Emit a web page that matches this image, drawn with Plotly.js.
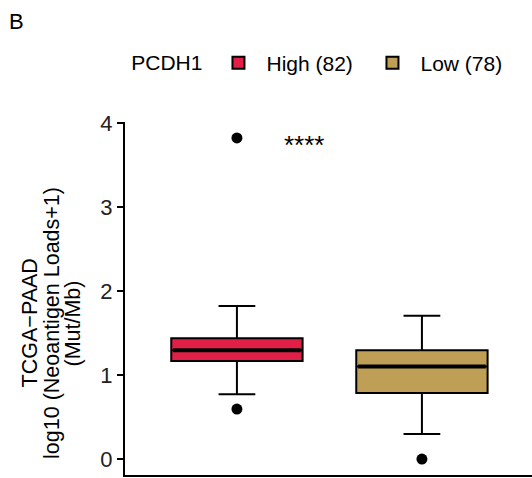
<!DOCTYPE html>
<html>
<head>
<meta charset="utf-8">
<script src="https://cdn.plot.ly/plotly-3.0.1.min.js"></script>
<style>html,body{margin:0;padding:0;background:#fff}#chart{width:532px;height:478px}</style>
</head>
<body>
<div id="chart"></div>
<script>
// ---- data ----
const groups = ["High (82)", "Low (78)"];
const q1 = [1.167, 0.786];
const median = [1.294, 1.10];
const q3 = [1.437, 1.294];
const lowerFence = [0.77, 0.298];
const upperFence = [1.82, 1.706];
const outlierGroup = [0, 0, 1];
const outlierValues = [3.82, 0.595, 0.0];
const colors = ["#E21F47", "#BE9F55"];
const legendTitle = "PCDH1";
const yTitleLines = ["TCGA\u2212PAAD", "log10 (Neoantigen Loads+1)", "(Mut/Mb)"];
const sigLabel = "****";
const panelLabel = "B";

const FONT = "Liberation Sans, Arial, sans-serif";
const BOXW = 0.71;

const traces = [];
groups.forEach((g, i) => {
  traces.push({
    type: "box", name: g, x: [i],
    q1: [q1[i]], median: [median[i]], q3: [q3[i]],
    lowerfence: [lowerFence[i]], upperfence: [upperFence[i]],
    width: BOXW, whiskerwidth: 0.28,
    fillcolor: colors[i], line: {color: "#000", width: 2},
    boxpoints: false, hoverinfo: "skip"
  });
});
groups.forEach((g, i) => {
  traces.push({
    type: "scatter", mode: "lines", showlegend: false, hoverinfo: "skip",
    x: [i - BOXW / 2 + 0.01, i + BOXW / 2 - 0.01], y: [median[i], median[i]],
    line: {color: "#000", width: 4}
  });
});
traces.push({
  type: "scatter", mode: "markers", showlegend: false, hoverinfo: "skip",
  x: outlierGroup, y: outlierValues,
  marker: {color: "#000", size: 11}
});

// y-title lines placed as separate annotations (tighter line spacing)
const titleX = [-0.233, -0.18, -0.127];
const titleAnn = yTitleLines.map((t, k) => ({
  text: t, xref: "paper", yref: "paper", x: titleX[k], y: 0.43, textangle: -90,
  xanchor: "center", yanchor: "middle", showarrow: false,
  font: {size: 21.5, family: FONT, color: "#000"}
}));

const layout = {
  width: 532, height: 478,
  margin: {l: 125, r: 0, t: 122, b: 3},
  paper_bgcolor: "#fff", plot_bgcolor: "#fff",
  font: {family: FONT, size: 21, color: "#000"},
  showlegend: true,
  legend: {
    orientation: "h", xref: "container", yref: "container",
    x: 0.243, y: 0.868, xanchor: "left", yanchor: "middle",
    title: {text: legendTitle, side: "left", font: {size: 21, family: FONT}},
    font: {size: 21, family: FONT, color: "#000"},
    itemwidth: 46, entrywidth: 93, entrywidthmode: "pixels", traceorder: "normal"
  },
  xaxis: {
    range: [-0.605, 1.595], showline: true, linecolor: "#000", linewidth: 2,
    showticklabels: false, ticks: "", showgrid: false, zeroline: false, fixedrange: true
  },
  yaxis: {
    range: [-0.19, 4.01], tickvals: [0, 1, 2, 3, 4], ticks: "outside", ticklen: 6, tickwidth: 1.5,
    tickcolor: "#000", showline: true, linecolor: "#000", linewidth: 2,
    showgrid: false, zeroline: false, tickfont: {size: 22, color: "#222", family: FONT}
  },
  annotations: titleAnn.concat([
    {text: panelLabel, xref: "paper", yref: "paper", x: -0.29, y: 1.327,
     xanchor: "left", yanchor: "top", showarrow: false, font: {size: 22, family: FONT}},
    {text: sigLabel, xref: "x", yref: "y", x: 0.36, y: 3.74, showarrow: false,
     font: {size: 26, family: FONT, color: "#000"}}
  ])
};

Plotly.newPlot("chart", traces, layout, {displayModeBar: false, staticPlot: true});
</script>
</body>
</html>
